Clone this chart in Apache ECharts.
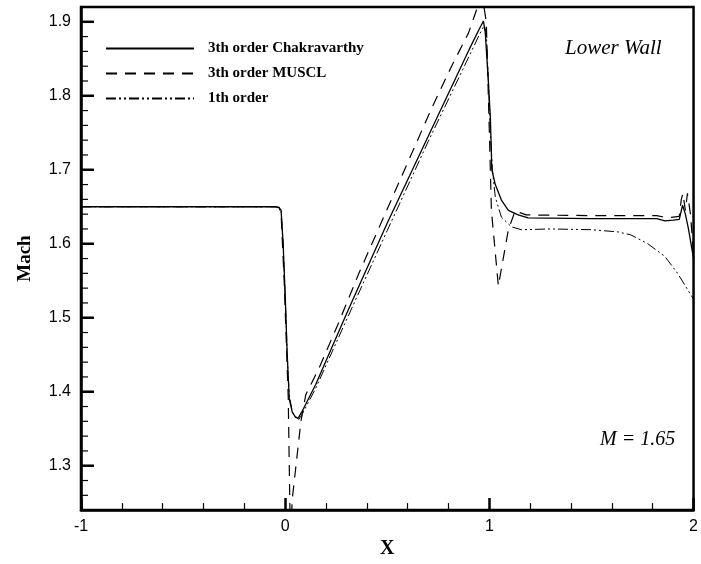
<!DOCTYPE html>
<html>
<head>
<meta charset="utf-8">
<title>Lower Wall Mach</title>
<script src="https://cdn.jsdelivr.net/npm/echarts@6/dist/echarts.min.js"></script>
<style>
  html, body { margin: 0; padding: 0; background: #fff; }
  #main { width: 701px; height: 564px; }
</style>
</head>
<body>
<div id="main"></div>
<script>
// values
var seriesNames = ['3th order Chakravarthy', '3th order MUSCL', '1th order'];

var chakX = [-1, -0.05, -0.03, -0.02, -0.01, 0.0, 0.01, 0.02, 0.035, 0.05, 0.063, 0.08, 0.15, 0.3, 0.5, 0.7, 0.9, 0.95, 0.971,
  0.98, 0.995, 1.005, 1.012, 1.029, 1.059, 1.093, 1.141, 1.19, 1.5, 1.82, 1.86, 1.9, 1.93, 1.946, 1.96, 1.975, 2.0];
var chakY = [1.65, 1.65, 1.649, 1.645, 1.60, 1.53, 1.45, 1.39, 1.372, 1.366, 1.364, 1.372, 1.41, 1.505, 1.628, 1.745, 1.862, 1.89, 1.901,
  1.885, 1.82, 1.77, 1.70, 1.68, 1.659, 1.645, 1.639, 1.635, 1.634, 1.634, 1.631, 1.632, 1.633, 1.652, 1.64, 1.62, 1.58];

var musclX = [-1, -0.05, -0.03, -0.02, -0.005, 0.015, 0.026, 0.034, 0.077, 0.101, 0.166, 0.263, 0.361, 0.717, 0.815, 0.898, 0.937, 0.965,
  0.985, 1.0, 1.01, 1.044, 1.093, 1.127, 1.15, 1.18, 1.5, 1.82, 1.87, 1.9, 1.93, 1.94, 1.948, 1.96, 1.97, 1.985, 2.0];
var musclY = [1.65, 1.65, 1.649, 1.64, 1.55, 1.392, 1.19, 1.253, 1.36, 1.396, 1.432, 1.494, 1.56, 1.783, 1.84, 1.885, 1.916, 1.935,
  1.90, 1.75, 1.645, 1.543, 1.619, 1.645, 1.642, 1.639, 1.638, 1.638, 1.635, 1.636, 1.637, 1.66, 1.668, 1.645, 1.668, 1.64, 1.585];

var firstX = [-1, -0.05, -0.03, -0.02, -0.01, 0.0, 0.01, 0.02, 0.035, 0.05, 0.065, 0.08, 0.15, 0.3, 0.5, 0.7, 0.9, 0.95, 0.975,
  0.985, 0.995, 1.005, 1.015, 1.029, 1.059, 1.107, 1.156, 1.3, 1.5, 1.63, 1.693, 1.776, 1.859, 1.922, 2.0];
var firstY = [1.65, 1.65, 1.649, 1.645, 1.60, 1.53, 1.45, 1.395, 1.373, 1.365, 1.362, 1.368, 1.405, 1.497, 1.618, 1.738, 1.853, 1.882, 1.895,
  1.885, 1.82, 1.75, 1.70, 1.663, 1.636, 1.623, 1.619, 1.62, 1.619, 1.616, 1.612, 1.60, 1.583, 1.56, 1.525];

var yMajor = [1.3, 1.4, 1.5, 1.6, 1.7, 1.8, 1.9];
var yMinor = [1.26, 1.28, 1.32, 1.34, 1.36, 1.38, 1.42, 1.44, 1.46, 1.48, 1.52, 1.54, 1.56, 1.58,
  1.62, 1.64, 1.66, 1.68, 1.72, 1.74, 1.76, 1.78, 1.82, 1.84, 1.86, 1.88, 1.92];

function pairs(xs, ys) {
  return xs.map(function (x, i) { return [x, ys[i]]; });
}

var myChart = echarts.init(document.getElementById('main'));

var serif = 'Liberation Serif';
var sans = 'Liberation Sans';

// inside ticks on the left axis, drawn as a custom series at x = -1
function tickSeries(values, len, w) {
  return {
    type: 'custom', silent: true, clip: false, z: 5,
    data: values.map(function (v) { return [-1, v]; }),
    renderItem: function (params, api) {
      var p = api.coord([api.value(0), api.value(1)]);
      return {
        type: 'line',
        shape: { x1: p[0], y1: p[1], x2: p[0] + len, y2: p[1] },
        style: { stroke: '#000', lineWidth: w }
      };
    }
  };
}

var option = {
  animation: false,
  backgroundColor: '#fff',
  grid: {
    left: 81, right: 5, top: 7, bottom: 48,
    show: true, borderColor: '#000', borderWidth: 2.5
  },
  legend: {
    orient: 'vertical',
    left: 100, top: 36,
    itemWidth: 88, itemHeight: 12, itemGap: 10,
    data: seriesNames,
    itemStyle: { opacity: 0 },
    textStyle: { fontFamily: serif, fontWeight: 'bold', fontSize: 15, color: '#000', padding: [0, 0, 0, 9] }
  },
  xAxis: {
    type: 'value', min: -1, max: 2, interval: 1,
    name: 'X', nameLocation: 'middle', nameGap: 22,
    nameTextStyle: { fontFamily: serif, fontWeight: 'bold', fontSize: 20, color: '#000' },
    axisLine: { show: true, onZero: false, lineStyle: { color: '#000', width: 2.5 } },
    axisTick: { inside: true, length: 12, lineStyle: { color: '#000', width: 2.5 } },
    minorTick: { show: true, splitNumber: 5, length: 7, lineStyle: { color: '#000', width: 1.2 } },
    axisLabel: { fontFamily: sans, fontSize: 16, color: '#000', margin: 8 },
    splitLine: { show: false }
  },
  yAxis: {
    type: 'value', min: 1.24, max: 1.92,
    name: 'Mach', nameLocation: 'middle', nameGap: 46,
    nameTextStyle: { fontFamily: serif, fontWeight: 'bold', fontSize: 19, color: '#000' },
    axisLine: { show: true, onZero: false, lineStyle: { color: '#000', width: 2.5 } },
    axisTick: { show: false },
    axisLabel: { fontFamily: sans, fontSize: 16, color: '#000', margin: 10, customValues: yMajor,
      formatter: function (v) { return v.toFixed(1); } },
    splitLine: { show: false }
  },
  series: [{
    name: seriesNames[0], type: 'line', symbol: 'none',
    data: pairs(chakX, chakY),
    lineStyle: { color: '#000', width: 1.3, type: 'solid' },
    itemStyle: { color: '#000' }
  }, {
    name: seriesNames[1], type: 'line', symbol: 'none',
    data: pairs(musclX, musclY),
    lineStyle: { color: '#000', width: 1.2, type: [11, 8] },
    itemStyle: { color: '#000' }
  }, {
    name: seriesNames[2], type: 'line', symbol: 'none',
    data: pairs(firstX, firstY),
    lineStyle: { color: '#000', width: 1, type: [10, 3, 2, 3, 2, 3] },
    itemStyle: { color: '#000' }
  }, tickSeries(yMajor, 13, 2.5), tickSeries(yMinor, 7, 1.2)],
  graphic: [{
    type: 'text', left: 565, top: 38,
    style: { text: 'Lower Wall', font: 'italic 21px "Liberation Serif"', fill: '#000' }
  }, {
    type: 'text', left: 600, top: 430,
    style: { text: 'M = 1.65', font: 'italic 20px "Liberation Serif"', fill: '#000' }
  }]
};

myChart.setOption(option);
</script>
</body>
</html>
